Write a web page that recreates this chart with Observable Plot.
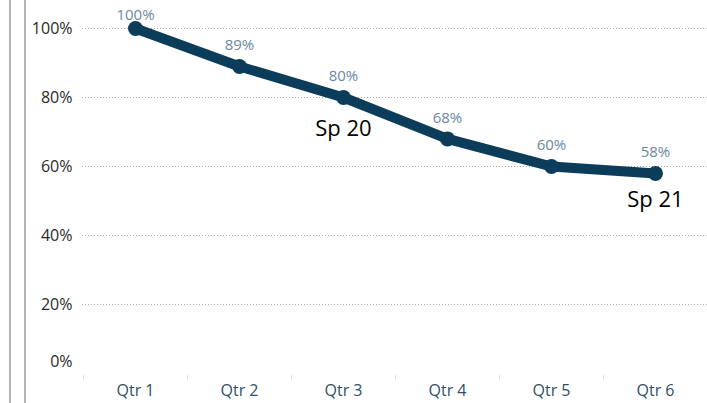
<!DOCTYPE html>
<html>
<head>
<meta charset="utf-8">
<script src="https://cdn.jsdelivr.net/npm/d3@7"></script>
<script src="https://cdn.jsdelivr.net/npm/@observablehq/plot@0.6"></script>
<style>
  html, body { margin: 0; padding: 0; background: #fff; }
  #wrap { position: relative; width: 707px; height: 403px; overflow: hidden; }
  .vline { position: absolute; top: 0; bottom: 0; width: 2px; background: #b5b5b5; }
</style>
</head>
<body>
<div id="wrap">
  <div class="vline" style="left:9px"></div>
  <div class="vline" style="left:24px"></div>
</div>
<script>
const quarters = ["Qtr 1", "Qtr 2", "Qtr 3", "Qtr 4", "Qtr 5", "Qtr 6"];
const values = [100, 89, 80, 68, 60, 58];
const yTicks = [20, 40, 60, 80, 100];
const annotations = [
  {q: "Qtr 3", v: 80, label: "Sp 20"},
  {q: "Qtr 6", v: 58, label: "Sp 21"}
];

const data = quarters.map((q, i) => ({q, v: values[i]}));
const lineColor = "#0b3d5b";
const font = "'Open Sans', 'Noto Sans', sans-serif";

const chart = Plot.plot({
  width: 707,
  height: 403,
  marginLeft: 82,
  marginRight: 0,
  marginTop: 28,
  marginBottom: 30,
  style: {fontFamily: font, fontSize: "16px", background: "transparent"},
  x: {type: "point", domain: quarters, padding: 0.5, label: null},
  y: {domain: [0, 100], label: null},
  marks: [
    Plot.gridY(yTicks, {stroke: "#a8a8a8", strokeOpacity: 1, strokeDasharray: "1,2", strokeWidth: 1}),
    Plot.axisY(yTicks, {tickSize: 0, tickPadding: 10, tickFormat: d => d + "%", fill: "#2a2a2a", fontSize: 16, label: null}),
    Plot.axisY([0], {tickSize: 0, tickPadding: 10, tickFormat: d => d + "%", fill: "#2a2a2a", fontSize: 16, dy: -12, label: null}),
    Plot.axisX(quarters, {tickSize: 0, tickPadding: 11, fill: "#2f4f6a", fontSize: 16, label: null}),
    Plot.ruleX(quarters, {x: d => d, dx: -52, y1: -0.6, y2: -1.9, stroke: "#ddd"}),
    Plot.line(data, {x: "q", y: "v", stroke: lineColor, strokeWidth: 10, strokeLinejoin: "round", strokeLinecap: "round"}),
    Plot.dot(data, {x: "q", y: "v", r: 7.5, fill: lineColor, stroke: "none"}),
    Plot.text(data.slice(0, 1), {x: "q", y: "v", text: d => d.v + "%", dy: -13, fill: "#6a88a2", fontSize: 15}),
    Plot.text(data.slice(1), {x: "q", y: "v", text: d => d.v + "%", dy: -21, fill: "#6a88a2", fontSize: 15}),
    Plot.text(annotations.slice(0, 1), {x: "q", y: "v", text: "label", dy: 31, fill: "#000", fontSize: 22}),
    Plot.text(annotations.slice(1), {x: "q", y: "v", text: "label", dy: 27, fill: "#000", fontSize: 22})
  ]
});
chart.style.position = "absolute";
chart.style.left = "0";
chart.style.top = "0";
document.getElementById("wrap").appendChild(chart);
</script>
</body>
</html>
